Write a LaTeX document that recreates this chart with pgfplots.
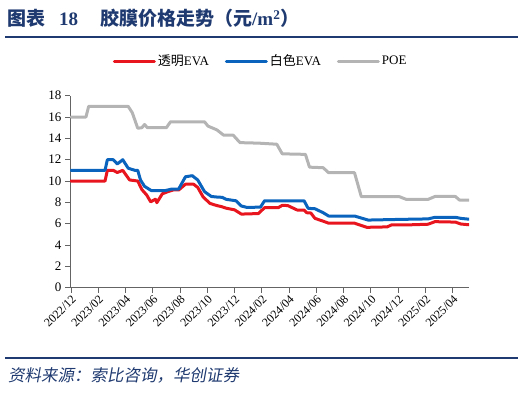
\documentclass[border=0pt]{standalone}
\usepackage{fontspec}
\setmainfont{Liberation Serif}
\newfontfamily\cjk{Noto Sans CJK SC}
\newfontfamily\cjkit[FakeSlant=0.18]{Noto Sans CJK SC}
\usepackage{pgfplots}
\pgfplotsset{compat=1.18}
\definecolor{tblue}{RGB}{31,58,112}
\definecolor{cred}{RGB}{232,20,30}
\definecolor{cblue}{RGB}{10,100,190}
\definecolor{cgray}{RGB}{180,180,180}
\definecolor{axgray}{RGB}{100,100,100}
\begin{document}
\begin{tikzpicture}[x=1pt,y=1pt]
\useasboundingbox (0,0) rectangle (524,393);
% title
\node[anchor=base west,inner sep=0,text=tblue,font=\fontsize{19}{22}\selectfont\bfseries] at (7,367) {{\cjk\bfseries 图表}\hspace{14pt}18\hspace{22pt}{\cjk\bfseries 胶膜价格走势（元}/m\textsuperscript{2}{\cjk\bfseries ）}};
\draw[tblue,line width=2pt] (5,393-37) -- (518,393-37);
\draw[tblue,line width=2pt] (5,393-358.3) -- (518,393-358.3);
\node[anchor=base west,inner sep=0,text=tblue,font=\fontsize{16.5}{20}\selectfont] at (8,393-382) {\cjkit 资料来源：索比咨询，华创证券};
\begin{axis}[
  at={(70pt,105.3pt)}, anchor=south west,
  scale only axis, width=399pt, height=192pt,
  xmin=-0.07, xmax=29.2, ymin=0, ymax=18,
  axis x line*=bottom, axis y line*=left,
  axis line style={axgray, line width=0.8pt},
  xtick={0,2,...,28},
  xticklabels={2022/12,2023/02,2023/04,2023/06,2023/08,2023/10,2023/12,2024/02,2024/04,2024/06,2024/08,2024/10,2024/12,2025/02,2025/04},
  x tick label style={rotate=45, anchor=north east, inner sep=1pt, font=\fontsize{12}{14}\selectfont},
  ytick={0,2,...,18},
  y tick label style={font=\fontsize{13}{15}\selectfont},
  /pgf/number format/assume math mode=true,
  tick style={axgray, line width=0.8pt},
  tick align=outside, major tick length=5pt,
  legend style={at={(0.478,1.18)}, anchor=center, draw=none, fill=none, font=\fontsize{13}{15}\selectfont, legend columns=3, /tikz/every even column/.append style={column sep=14pt}},
  legend image code/.code={\draw[#1] (0pt,0pt) -- (40pt,0pt);},
  every axis plot/.append style={line width=3pt, line join=round, line cap=round},
]
\addplot[cred] coordinates {(0,10.0) (2.5,10.0) (2.67,11.0) (3.1,11.0) (3.4,10.8) (3.8,11.0) (4.3,10.1) (4.9,10.0) (5.2,9.2) (5.55,8.7) (5.85,8.05) (6.2,8.3) (6.3,7.97) (6.7,8.8) (7.1,9.0) (7.5,9.16) (7.9,9.16) (8.4,9.7) (9.0,9.7) (9.3,9.4) (9.7,8.5) (10.2,7.9) (10.7,7.7) (11.05,7.6) (11.4,7.45) (12.0,7.3) (12.5,6.9) (13.75,6.95) (14.2,7.5) (15.2,7.5) (15.5,7.72) (15.9,7.7) (16.6,7.28) (17.1,7.28) (17.3,7.03) (17.6,7.0) (17.9,6.5) (18.6,6.19) (18.9,6.05) (20.8,6.05) (21.7,5.66) (23.2,5.7) (23.5,5.88) (25,5.9) (26.2,5.95) (26.7,6.19) (28.2,6.15) (28.6,5.97) (29.2,5.9)};
\addlegendentry{{\cjk 透明}EVA}
\addplot[cblue] coordinates {(0,11.0) (2.5,11.0) (2.67,12.0) (3.1,12.0) (3.4,11.6) (3.8,12.0) (4.2,11.2) (4.7,11.0) (4.9,11.0) (5.1,10.1) (5.4,9.5) (5.9,9.1) (6.9,9.1) (7.4,9.25) (7.9,9.25) (8.4,10.4) (8.9,10.5) (9.3,10.1) (9.8,9.0) (10.3,8.55) (10.7,8.5) (11.1,8.47) (11.4,8.28) (12.1,8.15) (12.5,7.66) (12.9,7.53) (13.9,7.55) (14.2,8.15) (17.1,8.15) (17.4,7.44) (17.9,7.4) (18.5,7.03) (18.9,6.72) (20.8,6.72) (21.8,6.34) (24,6.4) (26.2,6.45) (26.7,6.6) (28.2,6.6) (28.6,6.5) (29.2,6.42)};
\addlegendentry{{\cjk 白色}EVA}
\addplot[cgray] coordinates {(0,16.0) (1.1,16.0) (1.3,17.0) (4.2,17.0) (4.5,16.4) (4.9,14.95) (5.2,15.0) (5.4,15.3) (5.6,15.0) (7.0,15.0) (7.3,15.55) (9.8,15.55) (10.05,15.15) (10.7,14.8) (11.2,14.3) (11.9,14.3) (12.4,13.6) (13.8,13.55) (15.1,13.45) (15.5,12.55) (17.2,12.5) (17.5,11.3) (18.5,11.25) (18.9,10.78) (20.8,10.78) (21.3,8.53) (24.1,8.53) (24.6,8.28) (26.2,8.28) (26.7,8.55) (28.2,8.55) (28.5,8.22) (29.2,8.22)};
\addlegendentry{POE}
\end{axis}
\end{tikzpicture}
\end{document}
